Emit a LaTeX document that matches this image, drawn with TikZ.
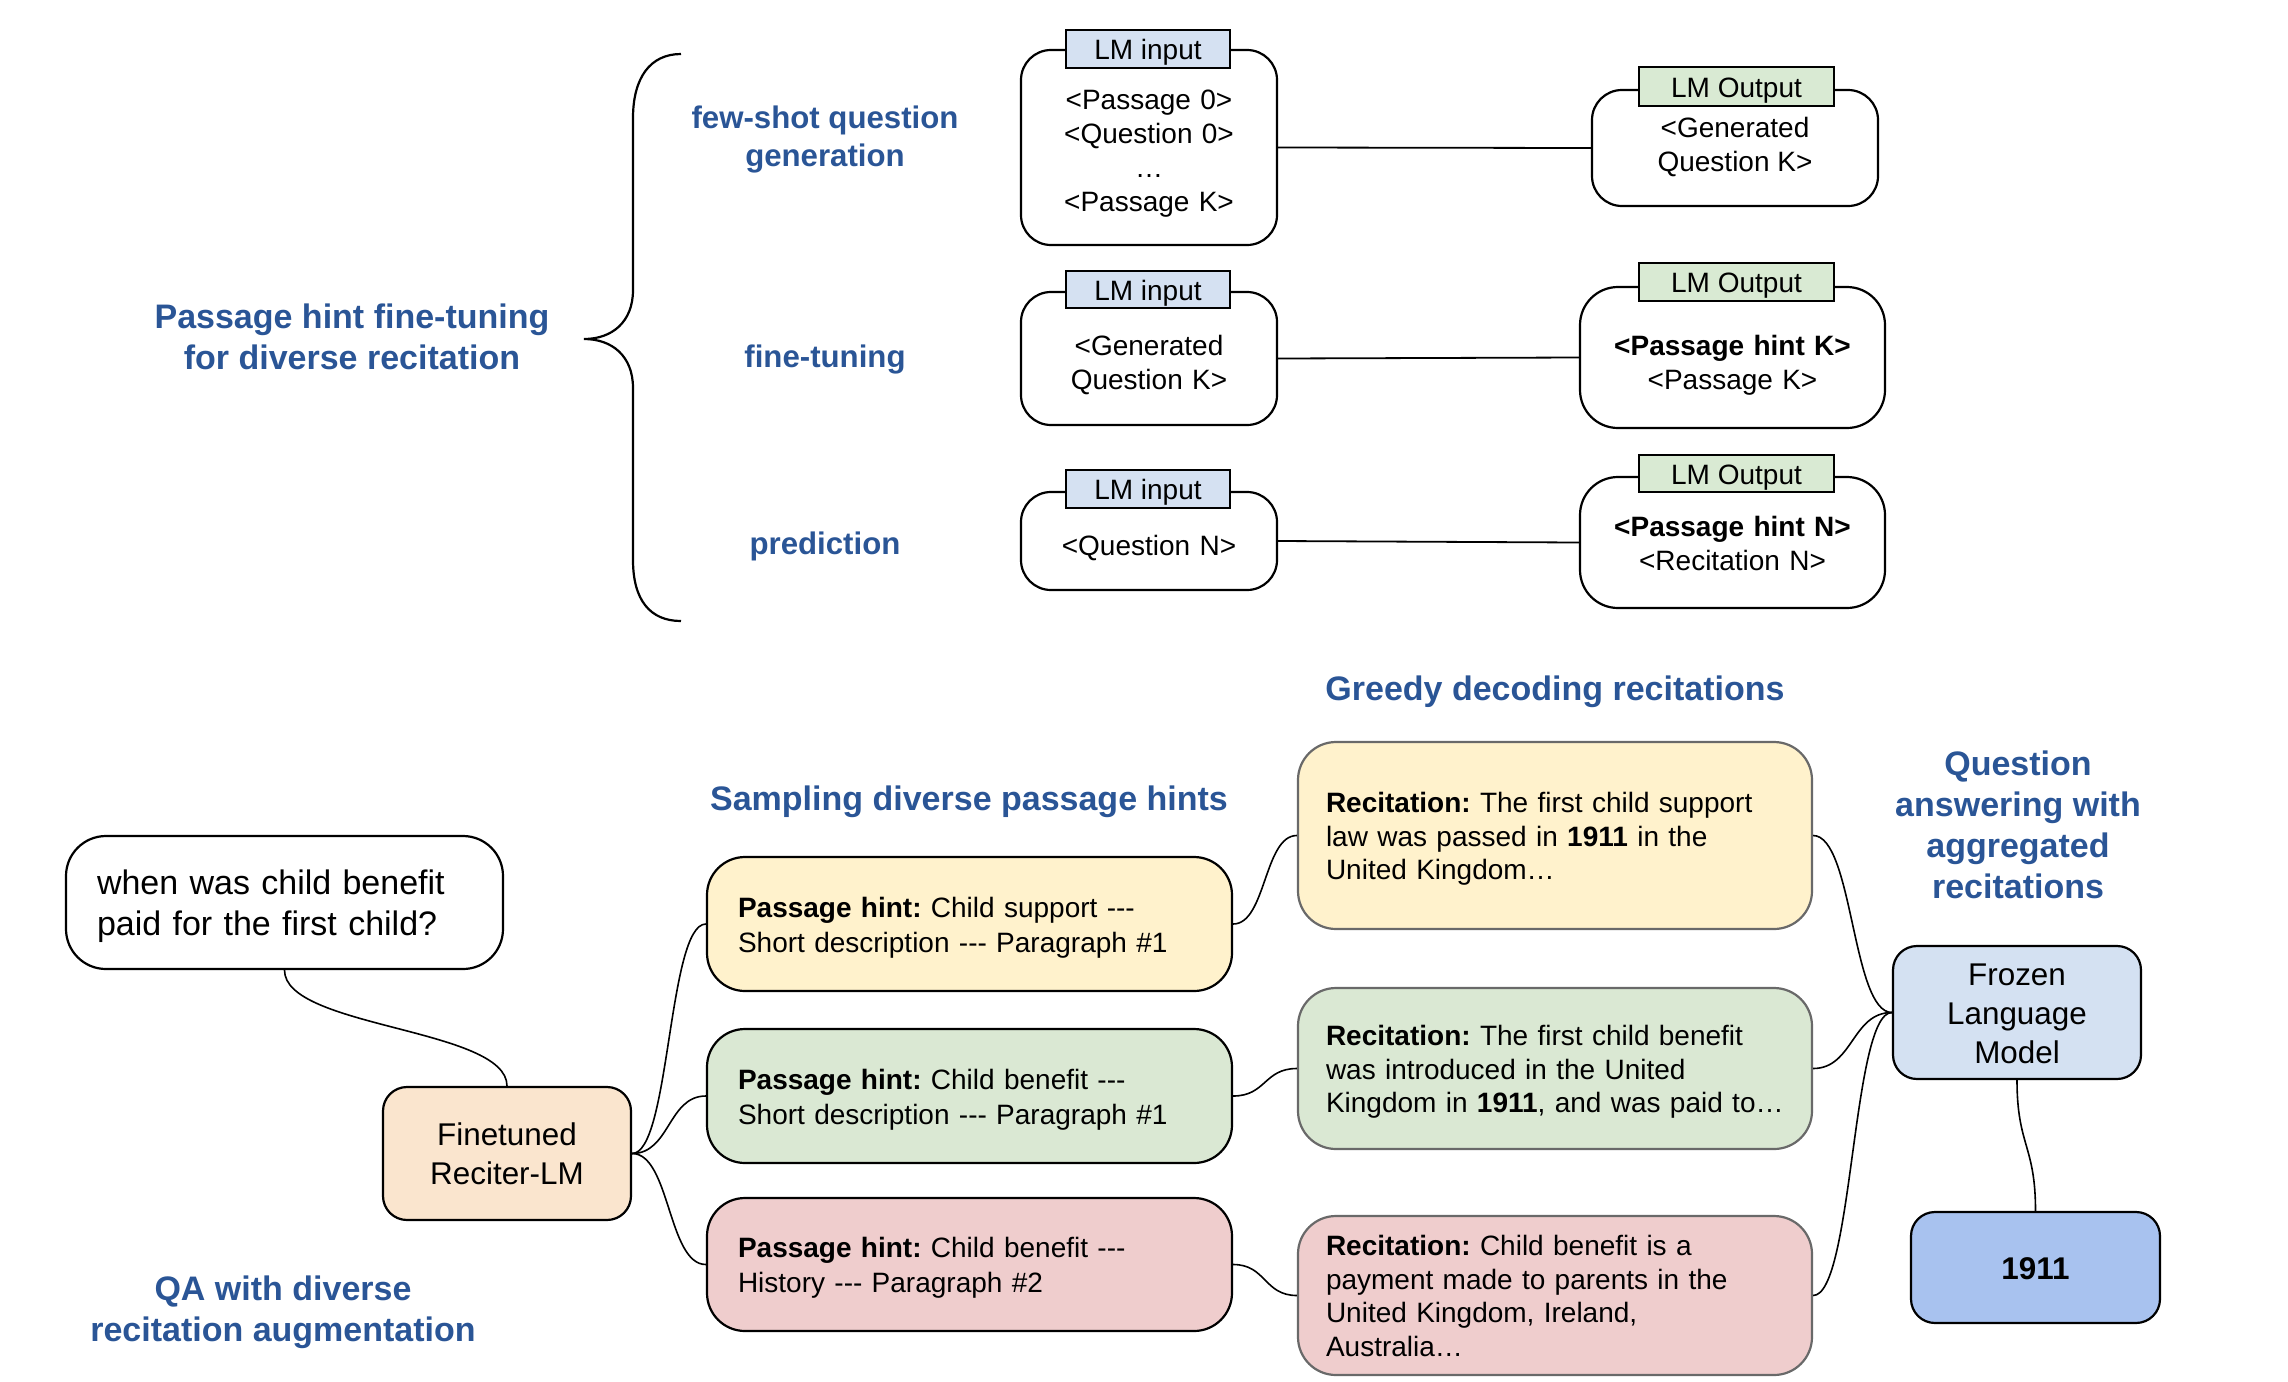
\documentclass[tikz,border=0pt]{standalone}
\usepackage{fontspec}
\setmainfont{Liberation Sans}
\frenchspacing
\definecolor{headblue}{RGB}{42,85,150}
\definecolor{tabblue}{RGB}{213,225,242}
\definecolor{tabgreen}{RGB}{217,234,211}
\definecolor{boxyellow}{RGB}{255,242,204}
\definecolor{boxgreen}{RGB}{218,232,211}
\definecolor{boxpink}{RGB}{239,205,205}
\definecolor{boxorange}{RGB}{250,229,206}
\definecolor{boxblue}{RGB}{212,225,242}
\definecolor{ansblue}{RGB}{168,194,239}
\definecolor{recgray}{RGB}{105,105,105}
\begin{document}
\begin{tikzpicture}[x=0.5pt,y=-0.5pt,
  every node/.append style={execute at begin node={\rule{0pt}{1em}},
    execute at end node={\rule[-0.25em]{0pt}{0.25em}}},
  txtdown/.style={execute at begin node={\rule{0pt}{\dimexpr1em+#1\relax}}},
  bw/.style={minimum width=#1, text width=#1},
  lmbox/.style={draw=black, line width=1.1pt, fill=white, rounded corners=15pt, inner sep=0pt,
    align=center, font=\fontsize{14}{17}\selectfont},
  tabbox/.style={draw=black, line width=1.1pt, inner sep=0pt, font=\fontsize{14}{17}\selectfont},
  head/.style={text=headblue, align=center, font=\bfseries\fontsize{17}{20.6}\selectfont},
  subhead/.style={text=headblue, align=center, font=\bfseries\fontsize{15.6}{19}\selectfont},
  hintbox/.style={draw=black, line width=1.1pt, rounded corners=19pt, inner xsep=15.5pt, inner ysep=0pt,
    text width=231.5pt, minimum height=67pt, align=left, font=\fontsize{14}{17.5}\selectfont},
  recbox/.style={draw=recgray, line width=1.1pt, rounded corners=19pt, inner xsep=14pt, inner ysep=0pt,
    text width=229pt, align=left, font=\fontsize{14}{16.9}\selectfont},
  midbox/.style={draw=black, line width=1.1pt, rounded corners=12pt, inner sep=0pt,
    align=center, font=\fontsize{15.7}{19.4}\selectfont},
  conn/.style={draw=black, line width=0.9pt},
  curve/.style={draw=black, line width=0.8pt}]
\useasboundingbox (0,0) rectangle (2288,1382);

% ---------- top part ----------
\node[head] (title) at (352,341) {Passage hint fine-tuning\\for diverse recitation};
\draw[line width=1.1pt] (681,54) .. controls (650,54) and (633,78) .. (633,118)
  -- (633,290) .. controls (633,322) and (612,339) .. (584,339)
  .. controls (612,339) and (633,356) .. (633,388)
  -- (633,560) .. controls (633,600) and (650,621) .. (681,621);

\node[subhead] (fs) at (825,140) {few-shot question\\generation};
\node[subhead] (ft) at (825,356) {fine-tuning};
\node[subhead] (pr) at (825,543) {prediction};

% row 1
\node[lmbox, bw=128pt, txtdown=2.2pt, minimum height=97.5pt] (in1) at (1149,147.5)
  {\textless Passage 0\textgreater\\\textless Question 0\textgreater\\…\\\textless Passage K\textgreater};
\node[tabbox, fill=tabblue, minimum width=82pt, minimum height=19pt] (tin1) at (1148,49) {LM input};
\node[lmbox, minimum width=143pt, minimum height=58pt] (out1) at (1735,148)
  {\textless Generated\\Question K\textgreater};
\node[tabbox, fill=tabgreen, minimum width=97.5pt, minimum height=19.5pt] (tout1) at (1736.5,86.5) {LM Output};
\draw[conn] (in1.east) -- (out1.west);

% row 2
\node[lmbox, bw=128pt, txtdown=3.2pt, minimum height=66.5pt] (in2) at (1149,358.5)
  {\textless Generated\\Question K\textgreater};
\node[tabbox, fill=tabblue, minimum width=82pt, minimum height=18.5pt] (tin2) at (1148,289.5) {LM input};
\node[lmbox, bw=152.5pt, txtdown=4.2pt, minimum height=70.5pt, rounded corners=19pt] (out2) at (1732.5,357.5)
  {\textbf{\textless Passage hint K\textgreater}\\\textless Passage K\textgreater};
\node[tabbox, fill=tabgreen, minimum width=97.5pt, minimum height=19pt] (tout2) at (1736.5,282) {LM Output};
\draw[conn] (in2.east) -- (out2.west);

% row 3
\node[lmbox, bw=128pt, txtdown=4pt, minimum height=49pt] (in3) at (1149,541)
  {\textless Question N\textgreater};
\node[tabbox, fill=tabblue, minimum width=82pt, minimum height=19pt] (tin3) at (1148,489) {LM input};
\node[lmbox, bw=152.5pt, minimum height=65.5pt, rounded corners=19pt] (out3) at (1732.5,542.5)
  {\textbf{\textless Passage hint N\textgreater}\\\textless Recitation N\textgreater};
\node[tabbox, fill=tabgreen, minimum width=97.5pt, minimum height=18.5pt] (tout3) at (1736.5,473.5) {LM Output};
\draw[conn] (in3.east) -- (out3.west);

% ---------- bottom part ----------
\node[head] (greedy) at (1555,688) {Greedy decoding recitations};
\node[head] (sampling) at (969,798) {Sampling diverse passage hints};
\node[head] (qaagg) at (2018,829) {Question\\answering with\\aggregated\\recitations};
\node[head] (qadiv) at (283,1313) {QA with diverse\\recitation augmentation};

\node[draw=black, line width=1.1pt, fill=white, rounded corners=20pt, inner xsep=15.5pt, inner ysep=0pt,
  text width=187.5pt, minimum height=66.5pt, align=left, font=\fontsize{17}{20.5}\selectfont]
  (q) at (284.5,902.5) {when was child benefit\\paid for the first child?};

\node[midbox, bw=124pt, fill=boxorange, minimum height=66.5pt] (fin) at (507,1153.5) {Finetuned\\Reciter-LM};

\node[hintbox, fill=boxyellow] (ph1) at (969.5,924)
  {\textbf{Passage hint:} Child support -{}-{}-\\Short description -{}-{}- Paragraph \#1};
\node[hintbox, fill=boxgreen] (ph2) at (969.5,1096)
  {\textbf{Passage hint:} Child benefit -{}-{}-\\Short description -{}-{}- Paragraph \#1};
\node[hintbox, fill=boxpink, minimum height=66.5pt] (ph3) at (969.5,1264.5)
  {\textbf{Passage hint:} Child benefit -{}-{}-\\History -{}-{}- Paragraph \#2};

\node[recbox, fill=boxyellow, minimum height=93.5pt] (rec1) at (1555,835.5)
  {\mbox{\textbf{Recitation:} The first child support}\\law was passed in \textbf{1911} in the\\United Kingdom…};
\node[recbox, fill=boxgreen, minimum height=80.5pt] (rec2) at (1555,1068.5)
  {\mbox{\textbf{Recitation:} The first child benefit}\\was introduced in the United\\\mbox{Kingdom in \textbf{1911}, and was paid to…}};
\node[recbox, fill=boxpink, minimum height=79.5pt] (rec3) at (1555,1295.5)
  {\textbf{Recitation:} Child benefit is a\\payment made to parents in the\\United Kingdom, Ireland,\\Australia…};

\node[midbox, bw=124pt, fill=boxblue, minimum height=66.5pt] (flm) at (2017,1012.5) {Frozen\\Language\\Model};
\node[midbox, fill=ansblue, minimum width=124.5pt, minimum height=55.5pt, font=\bfseries\fontsize{15.7}{19.4}\selectfont]
  (ans) at (2035.5,1267.5) {1911};

% connectors
\draw[curve] (q.south) .. controls +(0,58) and +(0,-58) .. (fin.north);
\draw[curve] (fin.east) .. controls +(38,0) and +(-38,0) .. (ph1.west);
\draw[curve] (fin.east) .. controls +(38,0) and +(-38,0) .. (ph2.west);
\draw[curve] (fin.east) .. controls +(38,0) and +(-38,0) .. (ph3.west);
\draw[curve] (ph1.east) .. controls +(33,0) and +(-33,0) .. (rec1.west);
\draw[curve] (ph2.east) .. controls +(33,0) and +(-33,0) .. (rec2.west);
\draw[curve] (ph3.east) .. controls +(33,0) and +(-33,0) .. (rec3.west);
\draw[curve] (rec1.east) .. controls +(40,0) and +(-40,0) .. (flm.west);
\draw[curve] (rec2.east) .. controls +(40,0) and +(-40,0) .. (flm.west);
\draw[curve] (rec3.east) .. controls +(40,0) and +(-40,0) .. (flm.west);
\draw[curve] (flm.south) .. controls +(0,66) and +(0,-66) .. (ans.north);
\end{tikzpicture}
\end{document}
